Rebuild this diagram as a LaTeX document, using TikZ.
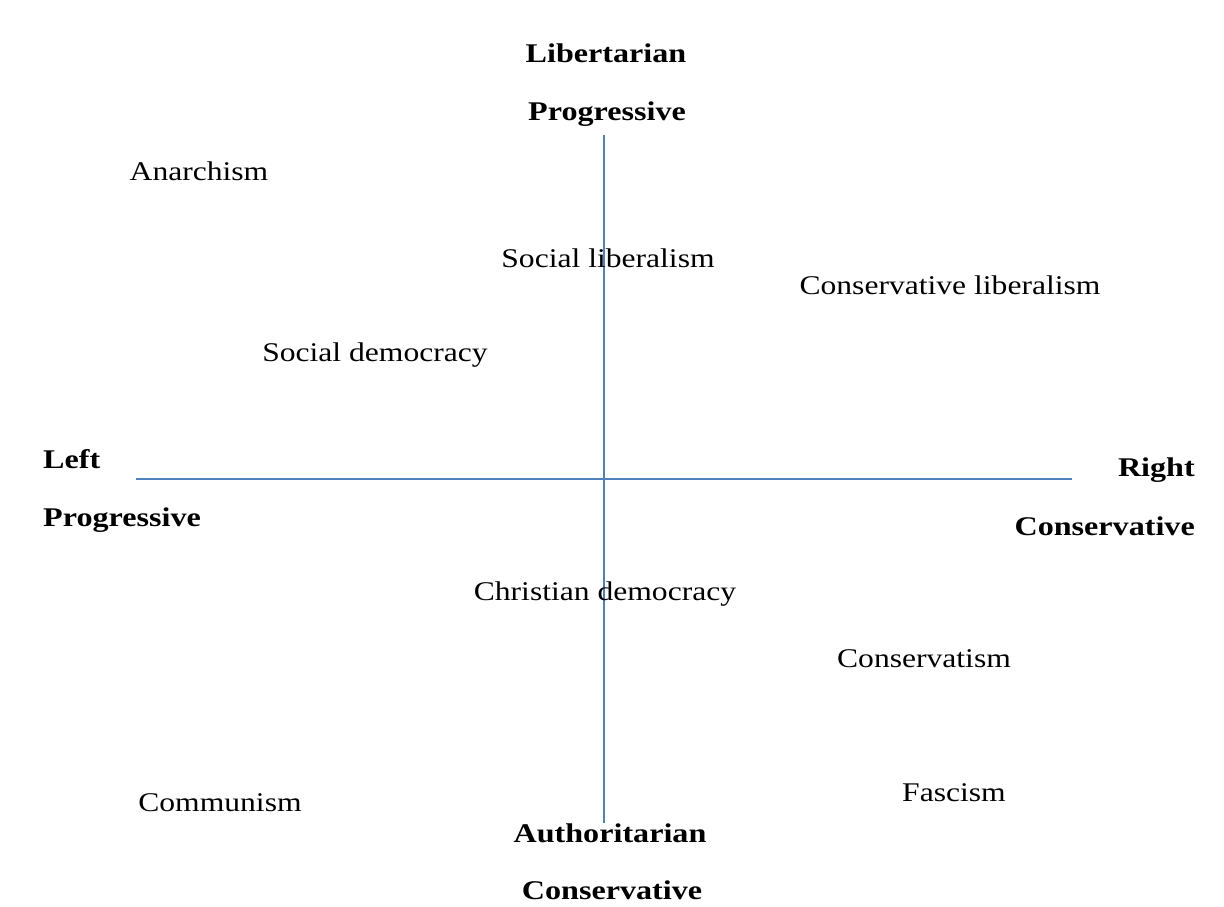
\documentclass[tikz,border=0pt]{standalone}
\usepackage{fontspec}
\setmainfont{Liberation Serif}[FakeStretch=1.17,BoldFeatures={FakeStretch=1.19}]
\definecolor{axisblue}{RGB}{79,129,189}
\begin{document}
\begin{tikzpicture}[x=1pt,y=-1pt,
  lbl/.style={inner sep=0pt,font=\fontsize{27}{31}\selectfont},
  blbl/.style={lbl,font=\fontsize{27}{31}\selectfont\bfseries},
  axis/.style={draw=axisblue,line width=2.5pt}]
\useasboundingbox (0,0) rectangle (1224,907);
\fill[white] (0,0) rectangle (1224,907);
% axes
\coordinate (vtop) at (604,135);
\coordinate (vbot) at (604,823);
\coordinate (hl) at (136,479);
\coordinate (hr) at (1072,479);
\draw[axis] (vtop) -- (vbot);
\draw[axis] (hl) -- (hr);
% axis labels
\node[blbl,anchor=base] (lib) at (606,63) {Libertarian};
\node[blbl,anchor=base] (progt) at (607,121) {Progressive};
\node[blbl,anchor=base west] (left) at (43,468) {Left};
\node[blbl,anchor=base west] (progl) at (43,526) {Progressive};
\node[blbl,anchor=base east] (right) at (1195,476) {Right};
\node[blbl,anchor=base east] (consr) at (1195,535) {Conservative};
\node[blbl,anchor=base] (auth) at (610,842) {Authoritarian};
\node[blbl,anchor=base] (consb) at (612,899) {Conservative};
% ideologies
\node[lbl,anchor=base] (anar) at (199,180) {Anarchism};
\node[lbl,anchor=base] (soclib) at (608,267) {Social liberalism};
\node[lbl,anchor=base] (conslib) at (950,294) {Conservative liberalism};
\node[lbl,anchor=base] (socdem) at (375,361) {Social democracy};
\node[lbl,anchor=base] (chrdem) at (605,600) {Christian democracy};
\node[lbl,anchor=base] (consm) at (924,667) {Conservatism};
\node[lbl,anchor=base] (fasc) at (954,801) {Fascism};
\node[lbl,anchor=base] (comm) at (220,811) {Communism};
\end{tikzpicture}
\end{document}
